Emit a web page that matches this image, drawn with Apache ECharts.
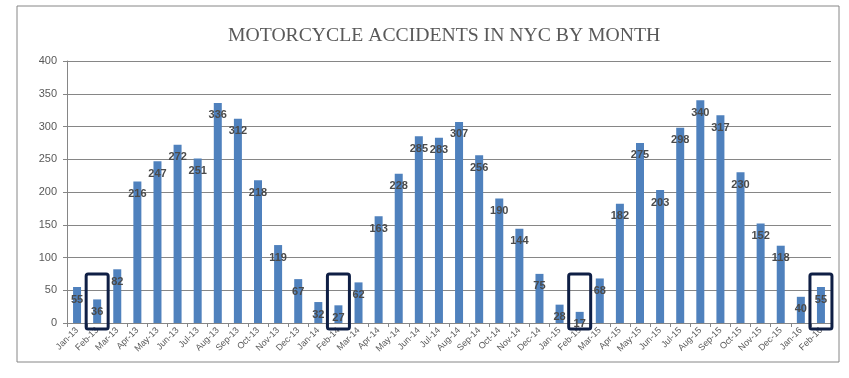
<!DOCTYPE html>
<html>
<head>
<meta charset="utf-8">
<script src="https://cdn.jsdelivr.net/npm/echarts@6/dist/echarts.min.js"></script>
<style>html,body{margin:0;padding:0;background:#fff}#c{width:849px;height:378px}</style>
</head>
<body>
<div id="c"></div>
<script>
const months = ['Jan-13','Feb-13','Mar-13','Apr-13','May-13','Jun-13','Jul-13','Aug-13','Sep-13','Oct-13','Nov-13','Dec-13',
  'Jan-14','Feb-14','Mar-14','Apr-14','May-14','Jun-14','Jul-14','Aug-14','Sep-14','Oct-14','Nov-14','Dec-14',
  'Jan-15','Feb-15','Mar-15','Apr-15','May-15','Jun-15','Jul-15','Aug-15','Sep-15','Oct-15','Nov-15','Dec-15',
  'Jan-16','Feb-16'];
const accidents = [55,36,82,216,247,272,251,336,312,218,119,67,
  32,27,62,163,228,285,283,307,256,190,144,75,
  28,17,68,182,275,203,298,340,317,230,152,118,
  40,55];
const highlighted = ['Feb-13','Feb-14','Feb-15','Feb-16'];
const yTicks = {min:0, max:400, interval:50};

const chart = echarts.init(document.getElementById('c'), null, {renderer:'canvas'});
const option = {
  animation:false,
  title:{
    text:'MOTORCYCLE ACCIDENTS IN NYC BY MONTH',
    left:223, top:21,
    textStyle:{fontFamily:'"Liberation Serif",serif', fontWeight:'normal', fontSize:19.7, color:'#595959'}
  },
  grid:{left:67, right:18, top:61, bottom:55, containLabel:false},
  xAxis:{
    type:'category', data:months,
    axisLine:{lineStyle:{color:'#868686'}},
    axisTick:{show:true, length:4, lineStyle:{color:'#868686'}},
    axisLabel:{rotate:45, fontSize:9, color:'#595959', interval:0, margin:6, fontFamily:'"Liberation Sans",Arial,sans-serif'}
  },
  yAxis:{
    type:'value', min:yTicks.min, max:yTicks.max, interval:yTicks.interval,
    axisLine:{show:true, lineStyle:{color:'#868686'}},
    axisTick:{show:true, length:4, lineStyle:{color:'#868686'}},
    splitLine:{lineStyle:{color:'#868686'}},
    axisLabel:{fontSize:11, color:'#595959', margin:10, fontFamily:'"Liberation Sans",Arial,sans-serif'}
  },
  series:[{
    type:'bar', data:accidents, barWidth:8,
    itemStyle:{color:'#4f81bd'},
    label:{show:true, position:'insideTop', distance:7, color:'#4a4a4a', fontSize:11, fontWeight:'bold',
      fontFamily:'"Liberation Sans",Arial,sans-serif'}
  }]
};
chart.setOption(option);

function drawBoxes(){
  const els = [{
    type:'rect', shape:{x:17, y:6, width:822, height:356},
    style:{fill:'none', stroke:'#868686', lineWidth:1}, z:-1
  }];
  highlighted.forEach(m => {
    const top = chart.convertToPixel({xAxisIndex:0, yAxisIndex:0}, [m, 75]);
    const base = chart.convertToPixel({xAxisIndex:0, yAxisIndex:0}, [m, 0]);
    els.push({
      type:'rect',
      shape:{x:top[0]-11, y:top[1], width:22, height:base[1]-top[1]+6, r:2},
      style:{fill:'none', stroke:'#0f1f45', lineWidth:3}, z:10
    });
  });
  chart.setOption({graphic:els});
}
drawBoxes();
</script>
</body>
</html>
